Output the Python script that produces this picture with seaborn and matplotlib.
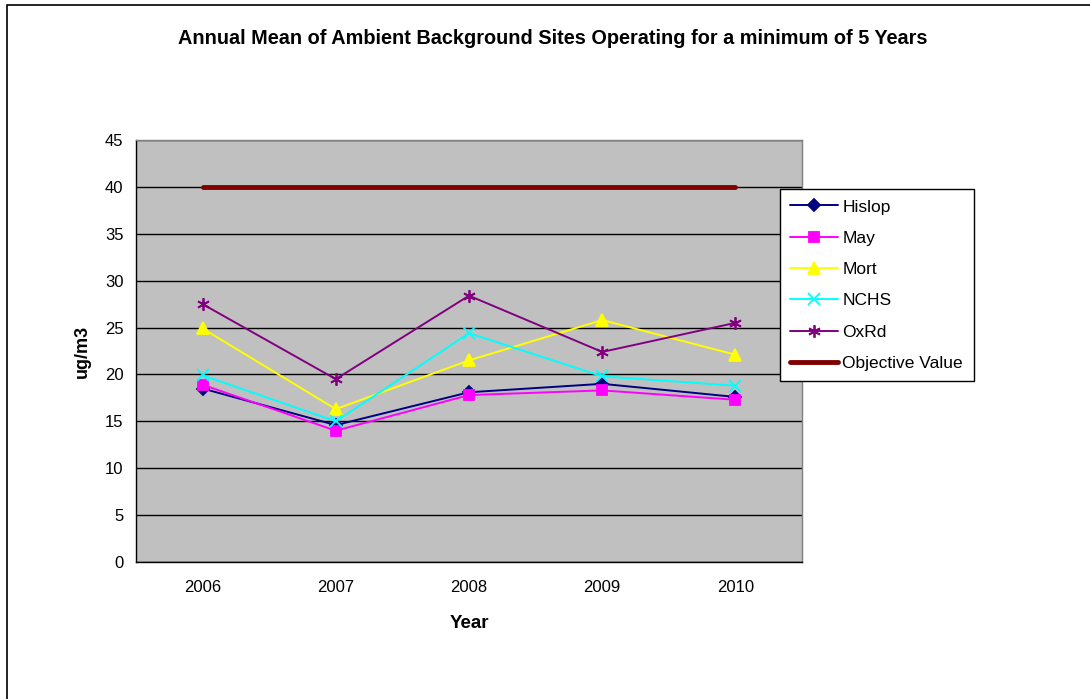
import matplotlib
matplotlib.use("Agg")
import matplotlib.pyplot as plt
from matplotlib.patches import Rectangle
import seaborn as sns
import pandas as pd

# values
years = ["2006", "2007", "2008", "2009", "2010"]
hislop = [18.5, 14.6, 18.1, 19.0, 17.6]
may = [18.9, 14.0, 17.8, 18.3, 17.3]
mort = [24.9, 16.3, 21.5, 25.8, 22.1]
nchs = [19.9, 15.0, 24.4, 19.8, 18.8]
oxrd = [27.5, 19.5, 28.4, 22.4, 25.5]
objective = [40, 40, 40, 40, 40]

series = {
    "Hislop": hislop,
    "May": may,
    "Mort": mort,
    "NCHS": nchs,
    "OxRd": oxrd,
    "Objective Value": objective,
}
styles = {
    "Hislop": dict(color="#000080", marker="D", ms=6, lw=1.4),
    "May": dict(color="#FF00FF", marker="s", ms=7, lw=1.4),
    "Mort": dict(color="#FFFF00", marker="^", ms=8, lw=1.4),
    "NCHS": dict(color="#00FFFF", marker="x", ms=8, lw=1.4),
    "OxRd": dict(color="#800080", marker=(6, 2, 0), ms=9, lw=1.4),
    "Objective Value": dict(color="#800000", marker=None, ms=0, lw=3.5),
}

rows = []
for name, vals in series.items():
    for i, v in enumerate(vals):
        rows.append({"idx": i, "year": years[i], "value": v, "site": name})
df = pd.DataFrame(rows)

sns.set_style("white")
plt.rcParams["font.family"] = ["Liberation Sans", "DejaVu Sans"]
plt.rcParams["text.color"] = "black"
plt.rcParams["axes.labelcolor"] = "black"
plt.rcParams["xtick.color"] = "black"
plt.rcParams["ytick.color"] = "black"

W, H = 1090, 699
fig = plt.figure(figsize=(W / 100, H / 100), dpi=100)
ax = fig.add_axes([136 / W, 1 - 562 / H, (802 - 136) / W, (562 - 140) / H])
ax.set_facecolor("#C0C0C0")

for name, st in styles.items():
    sub = df[df["site"] == name]
    sns.lineplot(data=sub, x="idx", y="value", ax=ax, color=st["color"],
                 marker=st["marker"], markersize=st["ms"], linewidth=st["lw"],
                 markeredgecolor=st["color"], markeredgewidth=1.3,
                 label=name, legend=False, zorder=3)

ax.set_xlim(-0.5, len(years) - 0.5)
ax.set_ylim(0, 45)
ax.set_yticks(range(0, 46, 5))
ax.yaxis.grid(True, color="black", linewidth=1)
ax.set_axisbelow(True)

# tick marks at category boundaries, labels centred between them
ax.set_xticks([i - 0.5 for i in range(len(years) + 1)])
ax.set_xticklabels([])
ax.set_xticks(range(len(years)), minor=True)
ax.set_xticklabels(years, minor=True)
ax.tick_params(axis="x", which="major", direction="out", length=5, width=1, color="black")
ax.tick_params(axis="x", which="minor", length=0, pad=13, labelsize=12)
ax.tick_params(axis="y", direction="out", length=5, width=1, color="black", labelsize=12, pad=4)

for side in ["left", "bottom"]:
    ax.spines[side].set_color("black")
    ax.spines[side].set_linewidth(1)
for side in ["top", "right"]:
    ax.spines[side].set_color("#808080")
    ax.spines[side].set_linewidth(1)

ax.set_xlabel("Year", fontsize=13.5, fontweight="bold", labelpad=14)
ax.set_ylabel("ug/m3", fontsize=13, fontweight="bold", labelpad=10)

fig.text(553 / W, 1 - 39 / H, "Annual Mean of Ambient Background Sites Operating for a minimum of 5 Years",
         ha="center", va="center", fontsize=14.3, fontweight="bold")

handles, labels = ax.get_legend_handles_labels()
leg = fig.legend(handles, labels, loc="upper left",
                 bbox_to_anchor=(780 / W, 1 - 189 / H), fontsize=12.5,
                 frameon=True, fancybox=False, shadow=False, framealpha=1,
                 edgecolor="black", handlelength=2.75, labelspacing=0.93,
                 borderpad=0.6, handletextpad=0.25, borderaxespad=0)
leg.get_frame().set_linewidth(1)

# outer chart border (cut off at right and bottom in the reference)
fig.patches.append(Rectangle((7 / W, -0.05), 1.0, 1 - 5 / H + 0.05,
                             transform=fig.transFigure, fill=False,
                             edgecolor="black", linewidth=1.2))

fig.savefig("out.png", dpi=100)
